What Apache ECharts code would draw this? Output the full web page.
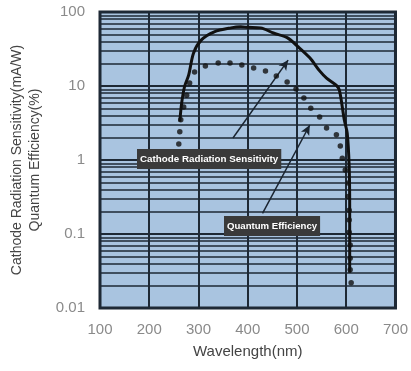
<!DOCTYPE html>
<html>
<head>
<meta charset="utf-8">
<script src="https://cdn.jsdelivr.net/npm/echarts@6/dist/echarts.min.js"></script>
<style>
html,body{margin:0;padding:0;background:#fff;}
#chart{width:411px;height:371px;}
</style>
</head>
<body>
<div id="chart"></div>
<script>
// wavelength (nm) / cathode radiation sensitivity (mA/W)
var sensWave = [262, 266, 272, 280, 290, 306, 332, 366, 386, 400, 426, 452, 480, 502, 526, 546, 560, 580, 586, 592, 596, 602, 606, 607, 607];
var sensVal  = [3.3, 6, 10, 14, 28, 42, 54, 61, 63, 62, 61, 52, 45, 34, 24, 16, 12.8, 10.2, 8.8, 5.2, 3.5, 2.3, 0.8, 0.23, 0.03];

// wavelength (nm) / quantum efficiency (%)
var qeWave = [260, 262, 264, 270, 276, 282, 292, 314, 340, 364, 388, 412, 436, 458, 480, 498, 514, 528, 546, 560, 580, 588, 592, 598, 604, 604, 606, 606, 606, 608, 608, 608, 610];
var qeVal  = [1.64, 2.4, 3.5, 5.2, 7.5, 11, 15.5, 18.6, 20.5, 20.5, 19.2, 17.5, 16, 13.6, 11.3, 9.1, 6.9, 5.0, 3.8, 2.7, 2.2, 1.55, 1.06, 0.73, 0.49, 0.32, 0.21, 0.155, 0.106, 0.071, 0.047, 0.033, 0.022];

var xTicks = [100, 200, 300, 400, 500, 600, 700];
var yTicks = [0.01, 0.1, 1, 10, 100];

// arrows: [from, to] in [wavelength, value]
var arrowSens = [[370, 1.98], [482, 22.4]];
var arrowQe   = [[430, 0.19], [526, 2.97]];

var gridColor = '#1e2935';

// minor log gridlines 2..9 in each decade
var minorLines = [];
for (var d = 0; d < yTicks.length - 1; d++) {
	for (var m = 2; m <= 9; m++) {
		minorLines.push({ yAxis: +(yTicks[d] * m).toPrecision(3) });
	}
}

function pairs(xs, ys) {
	var out = [];
	for (var i = 0; i < xs.length; i++) out.push([xs[i], ys[i]]);
	return out;
}

var myChart = echarts.init(document.getElementById('chart'));

var option = {
	animation: false,
	textStyle: { fontFamily: 'Liberation Sans, Arial, sans-serif' },
	grid: {
		left: 97, right: 14, top: 12, bottom: 63,
		show: true,
		backgroundColor: '#a9c4e0',
		borderColor: gridColor,
		borderWidth: 3
	},
	xAxis: {
		type: 'value',
		min: 100, max: 700, interval: 100,
		name: 'Wavelength(nm)',
		nameLocation: 'middle',
		nameGap: 36,
		nameTextStyle: { color: '#444', fontSize: 15 },
		axisLine: { show: false },
		axisTick: { show: false },
		axisLabel: { color: '#8a8a8a', fontSize: 15, margin: 14 },
		splitLine: { show: true, lineStyle: { color: gridColor, width: 2 } }
	},
	yAxis: {
		type: 'log',
		logBase: 10,
		min: 0.01, max: 100,
		name: 'Cathode Radiation Sensitivity(mA/W)\nQuantum Efficiency(%)',
		nameLocation: 'middle',
		nameGap: 56,
		nameTextStyle: { color: '#444', fontSize: 14, lineHeight: 18 },
		axisLine: { show: false },
		axisTick: { show: false },
		axisLabel: {
			color: '#8a8a8a', fontSize: 15, margin: 15,
			formatter: function (v) { return String(+v.toPrecision(2)); }
		},
		splitLine: { show: true, lineStyle: { color: gridColor, width: 2 } }
	},
	series: [
		{
			name: 'Cathode Radiation Sensitivity',
			type: 'line',
			data: pairs(sensWave, sensVal),
			smooth: 0.3,
			symbol: 'none',
			lineStyle: { color: '#111', width: 3 },
			z: 5,
			markLine: {
				silent: true,
				symbol: 'none',
				label: { show: false },
				lineStyle: { color: gridColor, width: 1.7, type: 'solid' },
				data: minorLines,
				z: 1
			}
		},
		{
			name: 'Quantum Efficiency',
			type: 'scatter',
			data: pairs(qeWave, qeVal),
			symbol: 'circle',
			symbolSize: 5.5,
			itemStyle: { color: '#111' },
			z: 6
		},
		{
			name: 'arrows',
			type: 'line',
			data: [],
			markLine: {
				silent: true,
				symbol: ['none', 'arrow'],
				symbolSize: [7, 10],
				label: { show: false },
				lineStyle: { color: '#1a2430', width: 1.5, type: 'solid' },
				data: [
					[{ coord: arrowSens[0] }, { coord: arrowSens[1] }],
					[{ coord: arrowQe[0] }, { coord: arrowQe[1] }]
				]
			}
		}
	],
	graphic: [
		{
			type: 'text',
			left: 137, top: 149,
			z: 20,
			style: {
				text: 'Cathode Radiation Sensitivity',
				fill: '#fff',
				font: 'bold 9.8px Liberation Sans, Arial, sans-serif',
				backgroundColor: '#3a3a3a',
				padding: [5, 3, 5, 3]
			}
		},
		{
			type: 'text',
			left: 224, top: 216,
			z: 20,
			style: {
				text: 'Quantum Efficiency',
				fill: '#fff',
				font: 'bold 9.6px Liberation Sans, Arial, sans-serif',
				backgroundColor: '#3a3a3a',
				padding: [5, 3, 5, 3]
			}
		}
	]
};

myChart.setOption(option);
</script>
</body>
</html>
